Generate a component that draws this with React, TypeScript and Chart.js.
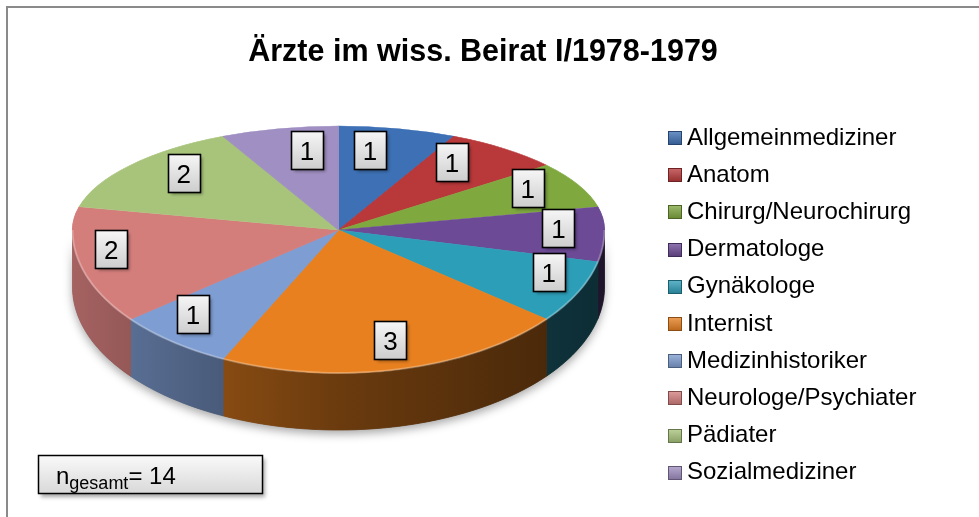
import React, { useEffect, useRef } from "react";
import { Chart, registerables } from "chart.js";

Chart.register(...registerables);

// ---------- data ----------
const TITLE = "Ärzte im wiss. Beirat I/1978-1979";
const CATEGORIES = [
  "Allgemeinmediziner",
  "Anatom",
  "Chirurg/Neurochirurg",
  "Dermatologe",
  "Gynäkologe",
  "Internist",
  "Medizinhistoriker",
  "Neurologe/Psychiater",
  "Pädiater",
  "Sozialmediziner",
];
const COUNTS = [1, 1, 1, 1, 1, 3, 1, 2, 2, 1];
const COLORS = [
  "#3D70B4",
  "#B9383A",
  "#7FA83F",
  "#6C4A95",
  "#2D9EB8",
  "#E8801F",
  "#7E9DD2",
  "#D47E7C",
  "#A8C47B",
  "#A08FC2",
];
const TOTAL_SYMBOL = "n";
const TOTAL_SUB = "gesamt";

// ---------- layout / style ----------
const W = 979;
const H = 517;
const FONT = '"Liberation Sans", Arial, Helvetica, sans-serif';
// perspective-like pie: back half and front half have different vertical radii
const PIE = { cx: 338.5, ay: 230, rx: 266, ryBack: 104, ryFront: 143, depth: 57 };
const LBL = { cy: 228, a: 265, w: 32, h: 38, size: 26 };
const LEG = { x: 668, textX: 687, y0: 137, dy: 37.2, box: 14, size: 24 };
const NBOX = { x: 38, y: 455, w: 224, h: 38 };
const TITLE_POS = { x: 483, y: 61, size: 30.5 };

function hexToRgb(hex: string) {
  const h = hex.replace("#", "");
  return [parseInt(h.slice(0, 2), 16), parseInt(h.slice(2, 4), 16), parseInt(h.slice(4, 6), 16)];
}
function shade(hex: string, f: number) {
  const [r, g, b] = hexToRgb(hex);
  return `rgb(${Math.round(r * f)},${Math.round(g * f)},${Math.round(b * f)})`;
}
function tint(hex: string, f: number) {
  const [r, g, b] = hexToRgb(hex);
  return `rgb(${Math.round(r + (255 - r) * f)},${Math.round(g + (255 - g) * f)},${Math.round(b + (255 - b) * f)})`;
}

// point on the front rim (t in [0, PI])
function frontPt(t: number) {
  return [PIE.cx + PIE.rx * Math.cos(t), PIE.ay + PIE.ryFront * Math.sin(t)];
}

function wallPath(ctx: CanvasRenderingContext2D, a: number, b: number) {
  const steps = Math.max(4, Math.ceil((b - a) / 0.02));
  ctx.beginPath();
  for (let i = 0; i <= steps; i++) {
    const t = a + ((b - a) * i) / steps;
    const [x, y] = frontPt(t);
    if (i === 0) ctx.moveTo(x, y);
    else ctx.lineTo(x, y);
  }
  for (let i = steps; i >= 0; i--) {
    const t = a + ((b - a) * i) / steps;
    const [x, y] = frontPt(t);
    ctx.lineTo(x, y + PIE.depth);
  }
  ctx.closePath();
}

function drawLabelBox(ctx: CanvasRenderingContext2D, x: number, y: number, text: string) {
  const { w, h } = LBL;
  const l = Math.round(x - w / 2) + 0.5;
  const t = Math.round(y - h / 2) + 0.5;
  ctx.save();
  ctx.shadowColor = "rgba(0,0,0,0.35)";
  ctx.shadowBlur = 3;
  ctx.shadowOffsetX = 2;
  ctx.shadowOffsetY = 2;
  const g = ctx.createLinearGradient(0, t, 0, t + h);
  g.addColorStop(0, "#f6f6f6");
  g.addColorStop(1, "#cdcdcd");
  ctx.fillStyle = g;
  ctx.fillRect(l, t, w, h);
  ctx.restore();
  ctx.strokeStyle = "#000";
  ctx.lineWidth = 1.6;
  ctx.strokeRect(l, t, w, h);
  ctx.fillStyle = "#000";
  ctx.font = `${LBL.size}px ${FONT}`;
  ctx.textAlign = "center";
  ctx.textBaseline = "alphabetic";
  ctx.fillText(text, x, t + h / 2 + LBL.size * 0.36);
}

const pie3d = {
  id: "pie3d",
  beforeDatasetsDraw(chart: any) {
    const ctx: CanvasRenderingContext2D = chart.ctx;
    const meta = chart.getDatasetMeta(0);
    const ds = chart.data.datasets[0];
    // soft shadow under the pie
    ctx.save();
    ctx.shadowColor = "rgba(0,0,0,0.35)";
    ctx.shadowBlur = 10;
    ctx.shadowOffsetX = 0;
    ctx.shadowOffsetY = 4;
    wallPath(ctx, 0, Math.PI);
    ctx.fillStyle = "#555";
    ctx.fill();
    ctx.restore();
    // side walls of the front slices (from the arcs' own angles)
    meta.data.forEach((arc: any, i: number) => {
      const a = Math.max(arc.startAngle, 0);
      const b = Math.min(arc.endAngle, Math.PI);
      if (b <= a) return;
      const col = ds.backgroundColor[i];
      const g = ctx.createLinearGradient(PIE.cx - PIE.rx, 0, PIE.cx + PIE.rx, 0);
      g.addColorStop(0, shade(col, 0.78));
      g.addColorStop(0.25, shade(col, 0.6));
      g.addColorStop(0.5, shade(col, 0.46));
      g.addColorStop(1, shade(col, 0.28));
      wallPath(ctx, a, b);
      ctx.fillStyle = g;
      ctx.fill();
      ctx.strokeStyle = g;
      ctx.lineWidth = 0.8;
      ctx.stroke();
    });
  },
  beforeDatasetDraw(chart: any, args: any) {
    // top face: Chart.js draws its arcs twice, squashed into the back and front half-ellipses
    const ctx: CanvasRenderingContext2D = chart.ctx;
    const meta = args.meta;
    const arc0 = meta.data[0];
    const r = arc0.outerRadius;
    const halves = [
      { y0: 0, y1: PIE.ay, ry: PIE.ryBack },
      { y0: PIE.ay, y1: H, ry: PIE.ryFront },
    ];
    halves.forEach((hf) => {
      ctx.save();
      ctx.beginPath();
      ctx.rect(0, hf.y0, W, hf.y1 - hf.y0);
      ctx.clip();
      ctx.translate(PIE.cx, PIE.ay);
      ctx.scale(PIE.rx / r, hf.ry / r);
      ctx.translate(-arc0.x, -arc0.y);
      meta.controller.draw();
      ctx.restore();
    });
    return false;
  },
  afterDatasetsDraw(chart: any) {
    const ctx: CanvasRenderingContext2D = chart.ctx;
    const meta = chart.getDatasetMeta(0);
    const ds = chart.data.datasets[0];
    // light rim on the front edge
    ctx.save();
    ctx.beginPath();
    for (let i = 0; i <= 100; i++) {
      const t = (Math.PI * i) / 100;
      const [x, y] = frontPt(t);
      if (i === 0) ctx.moveTo(x, y);
      else ctx.lineTo(x, y);
    }
    ctx.strokeStyle = "rgba(255,255,255,0.28)";
    ctx.lineWidth = 2;
    ctx.stroke();
    ctx.restore();
    // data labels (best-fit-like placement from each arc's mid angle)
    meta.data.forEach((arc: any, i: number) => {
      const mid = (arc.startAngle + arc.endAngle) / 2;
      const c = Math.cos(mid);
      const s = Math.sin(mid);
      const fx = s > 0.05 ? 0.88 : 0.45 + 0.38 * Math.abs(c);
      const x = PIE.cx + fx * LBL.a * c;
      const y = LBL.cy + s * (s < 0 ? 104 - 25 * Math.abs(s) : 90 + 25 * s);
      drawLabelBox(ctx, x, y, String(ds.data[i]));
    });
  },
  afterDraw(chart: any) {
    const ctx: CanvasRenderingContext2D = chart.ctx;
    const ds = chart.data.datasets[0];
    // outer chart border
    ctx.save();
    ctx.strokeStyle = "#8a8a8a";
    ctx.lineWidth = 2;
    ctx.beginPath();
    ctx.moveTo(7, H + 5);
    ctx.lineTo(7, 7);
    ctx.lineTo(W + 5, 7);
    ctx.stroke();
    ctx.restore();
    // title
    ctx.save();
    ctx.fillStyle = "#000";
    ctx.font = `bold ${TITLE_POS.size}px ${FONT}`;
    ctx.textAlign = "center";
    ctx.textBaseline = "alphabetic";
    ctx.fillText(TITLE, TITLE_POS.x, TITLE_POS.y);
    ctx.restore();
    // legend
    ctx.save();
    ctx.font = `${LEG.size}px ${FONT}`;
    ctx.textBaseline = "middle";
    ctx.textAlign = "left";
    chart.data.labels.forEach((lab: string, i: number) => {
      const yc = LEG.y0 + LEG.dy * i;
      const col = ds.backgroundColor[i];
      const bx = LEG.x;
      const by = Math.round(yc - LEG.box / 2 + 1);
      const g = ctx.createLinearGradient(0, by, 0, by + LEG.box);
      g.addColorStop(0, tint(col, 0.25));
      g.addColorStop(1, shade(col, 0.8));
      ctx.fillStyle = g;
      ctx.fillRect(bx, by, LEG.box, LEG.box);
      ctx.strokeStyle = shade(col, 0.6);
      ctx.lineWidth = 1;
      ctx.strokeRect(bx + 0.5, by + 0.5, LEG.box - 1, LEG.box - 1);
      ctx.fillStyle = "#000";
      ctx.fillText(lab, LEG.textX, yc + 1);
    });
    ctx.restore();
    // total box
    const total = (ds.data as number[]).reduce((p, v) => p + v, 0);
    ctx.save();
    ctx.shadowColor = "rgba(0,0,0,0.35)";
    ctx.shadowBlur = 4;
    ctx.shadowOffsetX = 2;
    ctx.shadowOffsetY = 3;
    const g = ctx.createLinearGradient(0, NBOX.y, 0, NBOX.y + NBOX.h);
    g.addColorStop(0, "#fafafa");
    g.addColorStop(1, "#d9d9d9");
    ctx.fillStyle = g;
    ctx.fillRect(NBOX.x + 0.5, NBOX.y + 0.5, NBOX.w, NBOX.h);
    ctx.restore();
    ctx.save();
    ctx.strokeStyle = "#000";
    ctx.lineWidth = 1.5;
    ctx.strokeRect(NBOX.x + 0.5, NBOX.y + 0.5, NBOX.w, NBOX.h);
    ctx.fillStyle = "#000";
    ctx.textBaseline = "alphabetic";
    ctx.textAlign = "left";
    let x = NBOX.x + 18;
    const base = NBOX.y + 29;
    ctx.font = `24px ${FONT}`;
    ctx.fillText(TOTAL_SYMBOL, x, base);
    x += ctx.measureText(TOTAL_SYMBOL).width;
    ctx.font = `18px ${FONT}`;
    ctx.fillText(TOTAL_SUB, x, base + 5);
    x += ctx.measureText(TOTAL_SUB).width;
    ctx.font = `24px ${FONT}`;
    ctx.fillText(`= ${total}`, x, base);
    ctx.restore();
  },
};

export default function App() {
  const ref = useRef<HTMLCanvasElement | null>(null);
  useEffect(() => {
    document.body.style.margin = "0";
    const canvas = ref.current!;
    const chart = new Chart(canvas, {
      type: "pie",
      data: {
        labels: CATEGORIES,
        datasets: [
          {
            data: COUNTS,
            backgroundColor: COLORS,
            borderColor: COLORS,
            borderWidth: 1,
            clip: false,
          } as any,
        ],
      },
      options: {
        responsive: false,
        maintainAspectRatio: false,
        animation: false,
        devicePixelRatio: 1,
        events: [],
        rotation: 0,
        layout: { padding: 0 },
        plugins: {
          legend: { display: false },
          title: { display: false },
          tooltip: { enabled: false },
        },
      },
      plugins: [pie3d as any],
    });
    return () => chart.destroy();
  }, []);
  return (
    <div style={{ width: W, height: H, background: "#fff" }}>
      <canvas ref={ref} width={W} height={H} style={{ display: "block", width: W, height: H }} />
    </div>
  );
}
